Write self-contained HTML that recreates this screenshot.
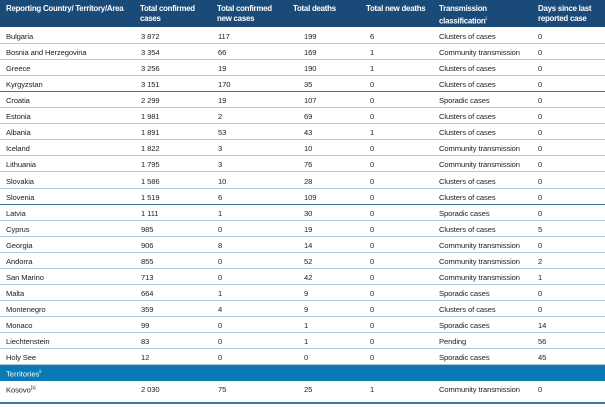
<!DOCTYPE html>
<html><head><meta charset="utf-8"><style>
body{margin:0;width:605px;height:407px;background:#fff;overflow:hidden;font-family:"Liberation Sans",sans-serif;position:relative}
.hd{position:absolute;left:0;top:0;width:605px;height:27px;background:#1a4a78}
.h{position:absolute;color:#fff;font-weight:bold;font-size:7.9px;line-height:9.5px;top:4px;letter-spacing:-0.25px}
.r{position:absolute;left:0;width:605px;height:16px;font-size:7.6px;color:#222;border-bottom:1.5px solid #b3cad8;box-sizing:border-box}
.r.dk{border-bottom-color:#3a78a6}
.r span{position:absolute;top:4px;white-space:nowrap;letter-spacing:-0.1px}
.terr{position:absolute;left:0;top:365px;width:605px;height:16px;background:#0a7ab4;color:#fff;font-size:7.6px}
sup{font-size:4.5px}
</style></head><body>
<div class="hd">
<div class="h" style="left:6px">Reporting Country/ Territory/Area</div>
<div class="h" style="left:140px">Total confirmed<br>cases</div>
<div class="h" style="left:217px">Total confirmed<br>new cases</div>
<div class="h" style="left:293px">Total deaths</div>
<div class="h" style="left:366px">Total new deaths</div>
<div class="h" style="left:439px">Transmission<br>classification<sup>i</sup></div>
<div class="h" style="left:538px">Days since last<br>reported case</div>
</div>
<div id="rows"></div>
<div class="terr"><span style="position:absolute;left:6px;top:4px">Territories<sup>ii</sup></span></div>
<div class="r" style="top:381px;height:23px;border-bottom:2px solid #3a78a6"><span style="left:6px">Kosovo<sup>[1]</sup></span><span style="left:141px">2 030</span><span style="left:218px">75</span><span style="left:304px">25</span><span style="left:370px">1</span><span style="left:439px">Community transmission</span><span style="left:538px">0</span></div>
<script>
var d=[["Bulgaria","3 872","117","199","6","Clusters of cases","0"],
["Bosnia and Herzegovina","3 354","66","169","1","Community transmission","0"],
["Greece","3 256","19","190","1","Clusters of cases","0"],
["Kyrgyzstan","3 151","170","35","0","Clusters of cases","0"],
["Croatia","2 299","19","107","0","Sporadic cases","0"],
["Estonia","1 981","2","69","0","Clusters of cases","0"],
["Albania","1 891","53","43","1","Clusters of cases","0"],
["Iceland","1 822","3","10","0","Community transmission","0"],
["Lithuania","1 795","3","76","0","Community transmission","0"],
["Slovakia","1 586","10","28","0","Clusters of cases","0"],
["Slovenia","1 519","6","109","0","Clusters of cases","0"],
["Latvia","1 111","1","30","0","Sporadic cases","0"],
["Cyprus","985","0","19","0","Clusters of cases","5"],
["Georgia","906","8","14","0","Community transmission","0"],
["Andorra","855","0","52","0","Community transmission","2"],
["San Marino","713","0","42","0","Community transmission","1"],
["Malta","664","1","9","0","Sporadic cases","0"],
["Montenegro","359","4","9","0","Clusters of cases","0"],
["Monaco","99","0","1","0","Sporadic cases","14"],
["Liechtenstein","83","0","1","0","Pending","56"],
["Holy See","12","0","0","0","Sporadic cases","45"]];
var xs=[6,141,218,304,370,439,538],h="";
var dark={3:1,10:1};
d.forEach(function(r,i){h+='<div class="r'+(dark[i]?' dk':'')+'" style="top:'+(28+i*16.05).toFixed(1)+'px">';
r.forEach(function(c,j){h+='<span style="left:'+xs[j]+'px">'+c+'</span>'});h+='</div>'});
document.getElementById('rows').innerHTML=h;
</script>
</body></html>
